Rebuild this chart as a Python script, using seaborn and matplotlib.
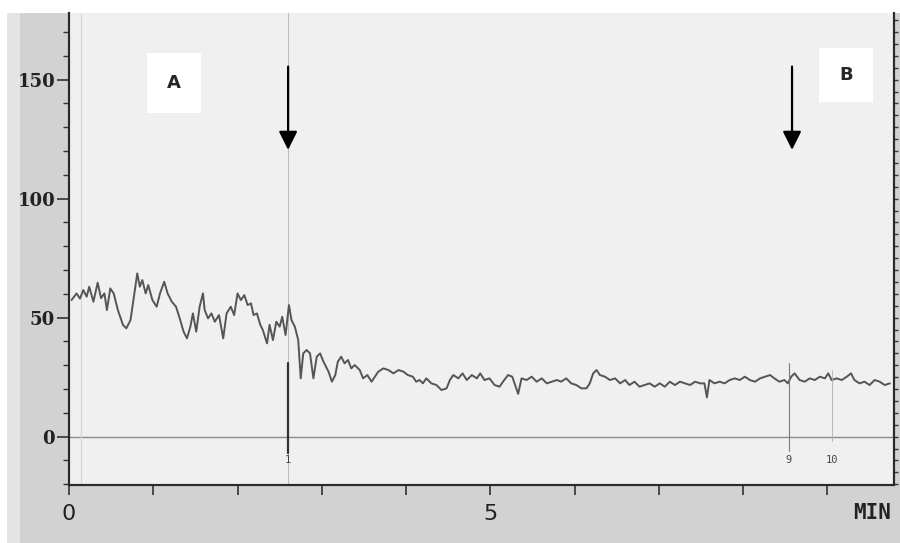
import numpy as np
import pandas as pd
import seaborn as sns
import matplotlib.pyplot as plt
from matplotlib.patches import Rectangle
from matplotlib.ticker import MultipleLocator

# trace (minutes, response)
time_min = [0.03, 0.09, 0.13, 0.17, 0.21, 0.24, 0.29, 0.34, 0.38, 0.42,
            0.45, 0.49, 0.53, 0.58, 0.64, 0.68, 0.73, 0.77, 0.81, 0.84,
            0.87, 0.91, 0.94, 0.99, 1.04, 1.08, 1.13, 1.17, 1.22, 1.27,
            1.32, 1.36, 1.40, 1.44, 1.47, 1.51, 1.55, 1.59, 1.61, 1.65,
            1.69, 1.73, 1.78, 1.83, 1.87, 1.92, 1.96, 2.00, 2.04, 2.08,
            2.12, 2.16, 2.19, 2.23, 2.27, 2.30, 2.35, 2.38, 2.42, 2.46,
            2.50, 2.53, 2.57, 2.61, 2.64, 2.68, 2.72,
            2.75, 2.78, 2.82, 2.86, 2.90, 2.94, 2.98, 3.02, 3.08, 3.12,
            3.16, 3.19, 3.23, 3.27, 3.31, 3.35, 3.39, 3.45, 3.49, 3.54,
            3.59, 3.63, 3.67, 3.73, 3.79, 3.85, 3.91, 3.97, 4.02, 4.08,
            4.12, 4.16, 4.20, 4.24, 4.30, 4.36, 4.42, 4.48, 4.52, 4.56,
            4.62, 4.67, 4.72, 4.78, 4.84, 4.88, 4.93, 4.99, 5.05, 5.11,
            5.15, 5.21, 5.26, 5.33,
            5.37, 5.43, 5.49, 5.55, 5.61, 5.67, 5.73, 5.79, 5.84, 5.90,
            5.96, 6.02, 6.08, 6.14, 6.18, 6.22, 6.26, 6.30, 6.36, 6.42,
            6.48, 6.54, 6.60, 6.65, 6.71, 6.77, 6.83, 6.89, 6.95, 7.01,
            7.07, 7.13, 7.19, 7.25, 7.31, 7.37, 7.43, 7.49, 7.54, 7.57,
            7.60, 7.66, 7.72, 7.78, 7.84, 7.90, 7.96, 8.02, 8.08, 8.14,
            8.20, 8.26, 8.32, 8.37, 8.43, 8.49, 8.53, 8.57, 8.61, 8.67,
            8.73, 8.79, 8.85, 8.91, 8.97, 9.01, 9.05, 9.11, 9.17, 9.23,
            9.28, 9.32, 9.38, 9.44, 9.50, 9.56, 9.62, 9.68, 9.74]

signal = [57.4, 60.2, 58.0, 61.6, 58.8, 63.0, 56.7, 64.7, 58.2, 60.2,
          53.2, 62.3, 60.2, 53.2, 47.0, 45.5, 49.0, 58.8, 68.6, 63.0,
          65.8, 60.2, 63.7, 57.4, 54.6, 60.2, 65.1, 60.2, 56.7, 54.6,
          49.0, 44.1, 41.3, 46.2, 51.8, 44.1, 54.6, 60.2, 53.2, 49.7,
          51.8, 48.3, 51.1, 41.3, 51.8, 54.6, 51.1, 60.2, 57.4, 59.5,
          55.3, 56.0, 51.1, 51.8, 47.0, 44.8, 39.2, 47.0, 40.6, 48.3,
          46.2, 50.4, 42.7, 55.3, 49.0, 46.2, 40.6,
          24.5, 35.0, 36.4, 35.0, 24.5, 33.6, 35.0, 31.5, 27.3, 23.1,
          25.9, 31.5, 33.6, 30.8, 32.2, 28.7, 30.1, 28.0, 24.5, 25.9,
          23.1, 25.2, 27.3, 28.7, 28.0, 26.6, 28.0, 27.3, 25.9, 25.2,
          23.1, 23.8, 22.4, 24.5, 22.4, 21.7, 19.6, 20.3, 23.8, 25.9,
          24.5, 26.6, 23.8, 25.9, 24.5, 26.6, 23.8, 24.5, 21.7, 21.0,
          23.1, 25.9, 25.2, 18.0,
          24.5, 23.8, 25.2, 23.1, 24.5, 22.4, 23.1, 23.8, 23.1, 24.5,
          22.4, 21.7, 20.3, 20.3, 22.4, 26.6, 28.0, 25.9, 25.2, 23.8,
          24.5, 22.4, 23.8, 21.7, 23.1, 21.0, 21.7, 22.4, 21.0, 22.4,
          21.0, 23.1, 21.7, 23.1, 22.4, 21.7, 23.1, 22.4, 22.4, 16.5,
          23.8, 22.4, 23.1, 22.4, 23.8, 24.5, 23.8, 25.2, 23.8, 23.1,
          24.5, 25.2, 25.9, 24.5, 23.1, 23.8, 22.4, 25.2, 26.6, 23.8,
          23.1, 24.5, 23.8, 25.2, 24.5, 26.6, 23.8, 24.5, 23.8, 25.2,
          26.6, 23.8, 22.4, 23.1, 21.7, 23.8, 23.1, 21.7, 22.4]

# event marks printed by the recorder
event_times = [2.60, 8.54, 9.05]
event_labels = ['1', '9', '10']

# A / B additions (arrows)
arrow_labels = ['A', 'B']
arrow_times = [2.60, 8.58]
box_centers = [1.25, 9.22]

x_ticks = [0, 1, 2, 3, 4, 5, 6, 7, 8, 9]
x_tick_labels = ['0', '', '', '', '', '5', '', '', '', '']
y_ticks = [0, 50, 100, 150]

df = pd.DataFrame({'time': time_min, 'signal': signal})

sns.set_style('ticks')
plt.rcParams['font.family'] = ['DejaVu Sans']

fig = plt.figure(figsize=(9, 5.43), dpi=100, facecolor='white')
# scanned paper
fig.patches.append(Rectangle((7 / 900, 0), 1, 1 - 13 / 543, transform=fig.transFigure,
                             facecolor='#e4e4e4', edgecolor='none', zorder=-5))
fig.patches.append(Rectangle((20 / 900, 0), 1, 1 - 13 / 543, transform=fig.transFigure,
                             facecolor='#d2d2d2', edgecolor='none', zorder=-4))

ax = fig.add_axes([69 / 900, 1 - 485 / 543, (894 - 69) / 900, (485 - 13) / 543])
ax.set_facecolor('#f0f0f0')

# chart grid features
ax.axhline(0, color='#8c8c8c', lw=1.0, zorder=1)
ax.axvline(0.14, color='#d6d6d6', lw=0.8, zorder=1)
ax.axvline(event_times[0], color='#bdbdbd', lw=0.8, zorder=1)

sns.lineplot(data=df, x='time', y='signal', ax=ax, color='#555555', lw=1.4,
             estimator=None, sort=False, zorder=3)

# event markers
ax.plot([event_times[0]] * 2, [31, -7], color='#333333', lw=1.6, zorder=4)
ax.plot([event_times[1]] * 2, [31, -6], color='#7a7a7a', lw=0.8, zorder=4)
ax.plot([event_times[2]] * 2, [28, -2], color='#b0b0b0', lw=0.6, zorder=4)
for t, lab in zip(event_times, event_labels):
    ax.text(t, -10, lab, ha='center', va='center', fontsize=7.5, color='#444444',
            family='DejaVu Sans Mono')

# arrows and boxed letters
for t in arrow_times:
    ax.annotate('', xy=(t, 120.5), xytext=(t, 155.5),
                arrowprops=dict(arrowstyle='-|>,head_length=0.8,head_width=0.4',
                                color='black', lw=1.6, mutation_scale=14, shrinkA=0, shrinkB=0),
                zorder=5)
box_y = [(136, 161), (140.5, 163.5)]
for c, lab, (y0, y1) in zip(box_centers, arrow_labels, box_y):
    ax.add_patch(Rectangle((c - 0.32, y0), 0.64, y1 - y0, facecolor='white',
                           edgecolor='none', zorder=5))
    ax.text(c, (y0 + y1) / 2, lab, ha='center', va='center', fontsize=13,
            fontweight='bold', family='DejaVu Sans', zorder=6)

ax.set_xlim(0, 9.79)
ax.set_ylim(-20.3, 178)
ax.set_xlabel('')
ax.set_ylabel('')

ax.set_xticks(x_ticks)
ax.set_xticklabels(x_tick_labels, fontsize=16, color='#222222')
ax.set_yticks(y_ticks)
ax.set_yticklabels([str(v) for v in y_ticks], fontsize=13, fontweight='bold',
                   family='DejaVu Serif', color='#222222')
ax.yaxis.set_minor_locator(MultipleLocator(10))
ax.tick_params(axis='x', direction='out', length=7, width=1.2, pad=7, color='#333333')
ax.tick_params(axis='y', which='major', direction='out', length=9, width=1.2, pad=1,
               color='#333333')
ax.tick_params(axis='y', which='minor', direction='out', length=4, width=1.0, color='#333333')

ax.annotate('MIN', xy=(9.53, -0.06), xycoords=('data', 'axes fraction'),
            ha='center', va='center', fontsize=15, fontweight='bold',
            family='DejaVu Sans Mono', color='#222222', annotation_clip=False)

# right scale with fine ticks
ax2 = ax.twinx()
ax2.set_ylim(ax.get_ylim())
ax2.yaxis.set_major_locator(MultipleLocator(50))
ax2.yaxis.set_minor_locator(MultipleLocator(5))
ax2.set_yticklabels([])
ax2.tick_params(axis='y', which='both', direction='out', length=3, width=1.0, color='#333333')

for a in (ax, ax2):
    a.spines['top'].set_visible(False)
    for s in ('left', 'bottom', 'right'):
        a.spines[s].set_color('#2a2a2a')
        a.spines[s].set_linewidth(1.5)

fig.savefig('out.png', dpi=100, facecolor=fig.get_facecolor())
